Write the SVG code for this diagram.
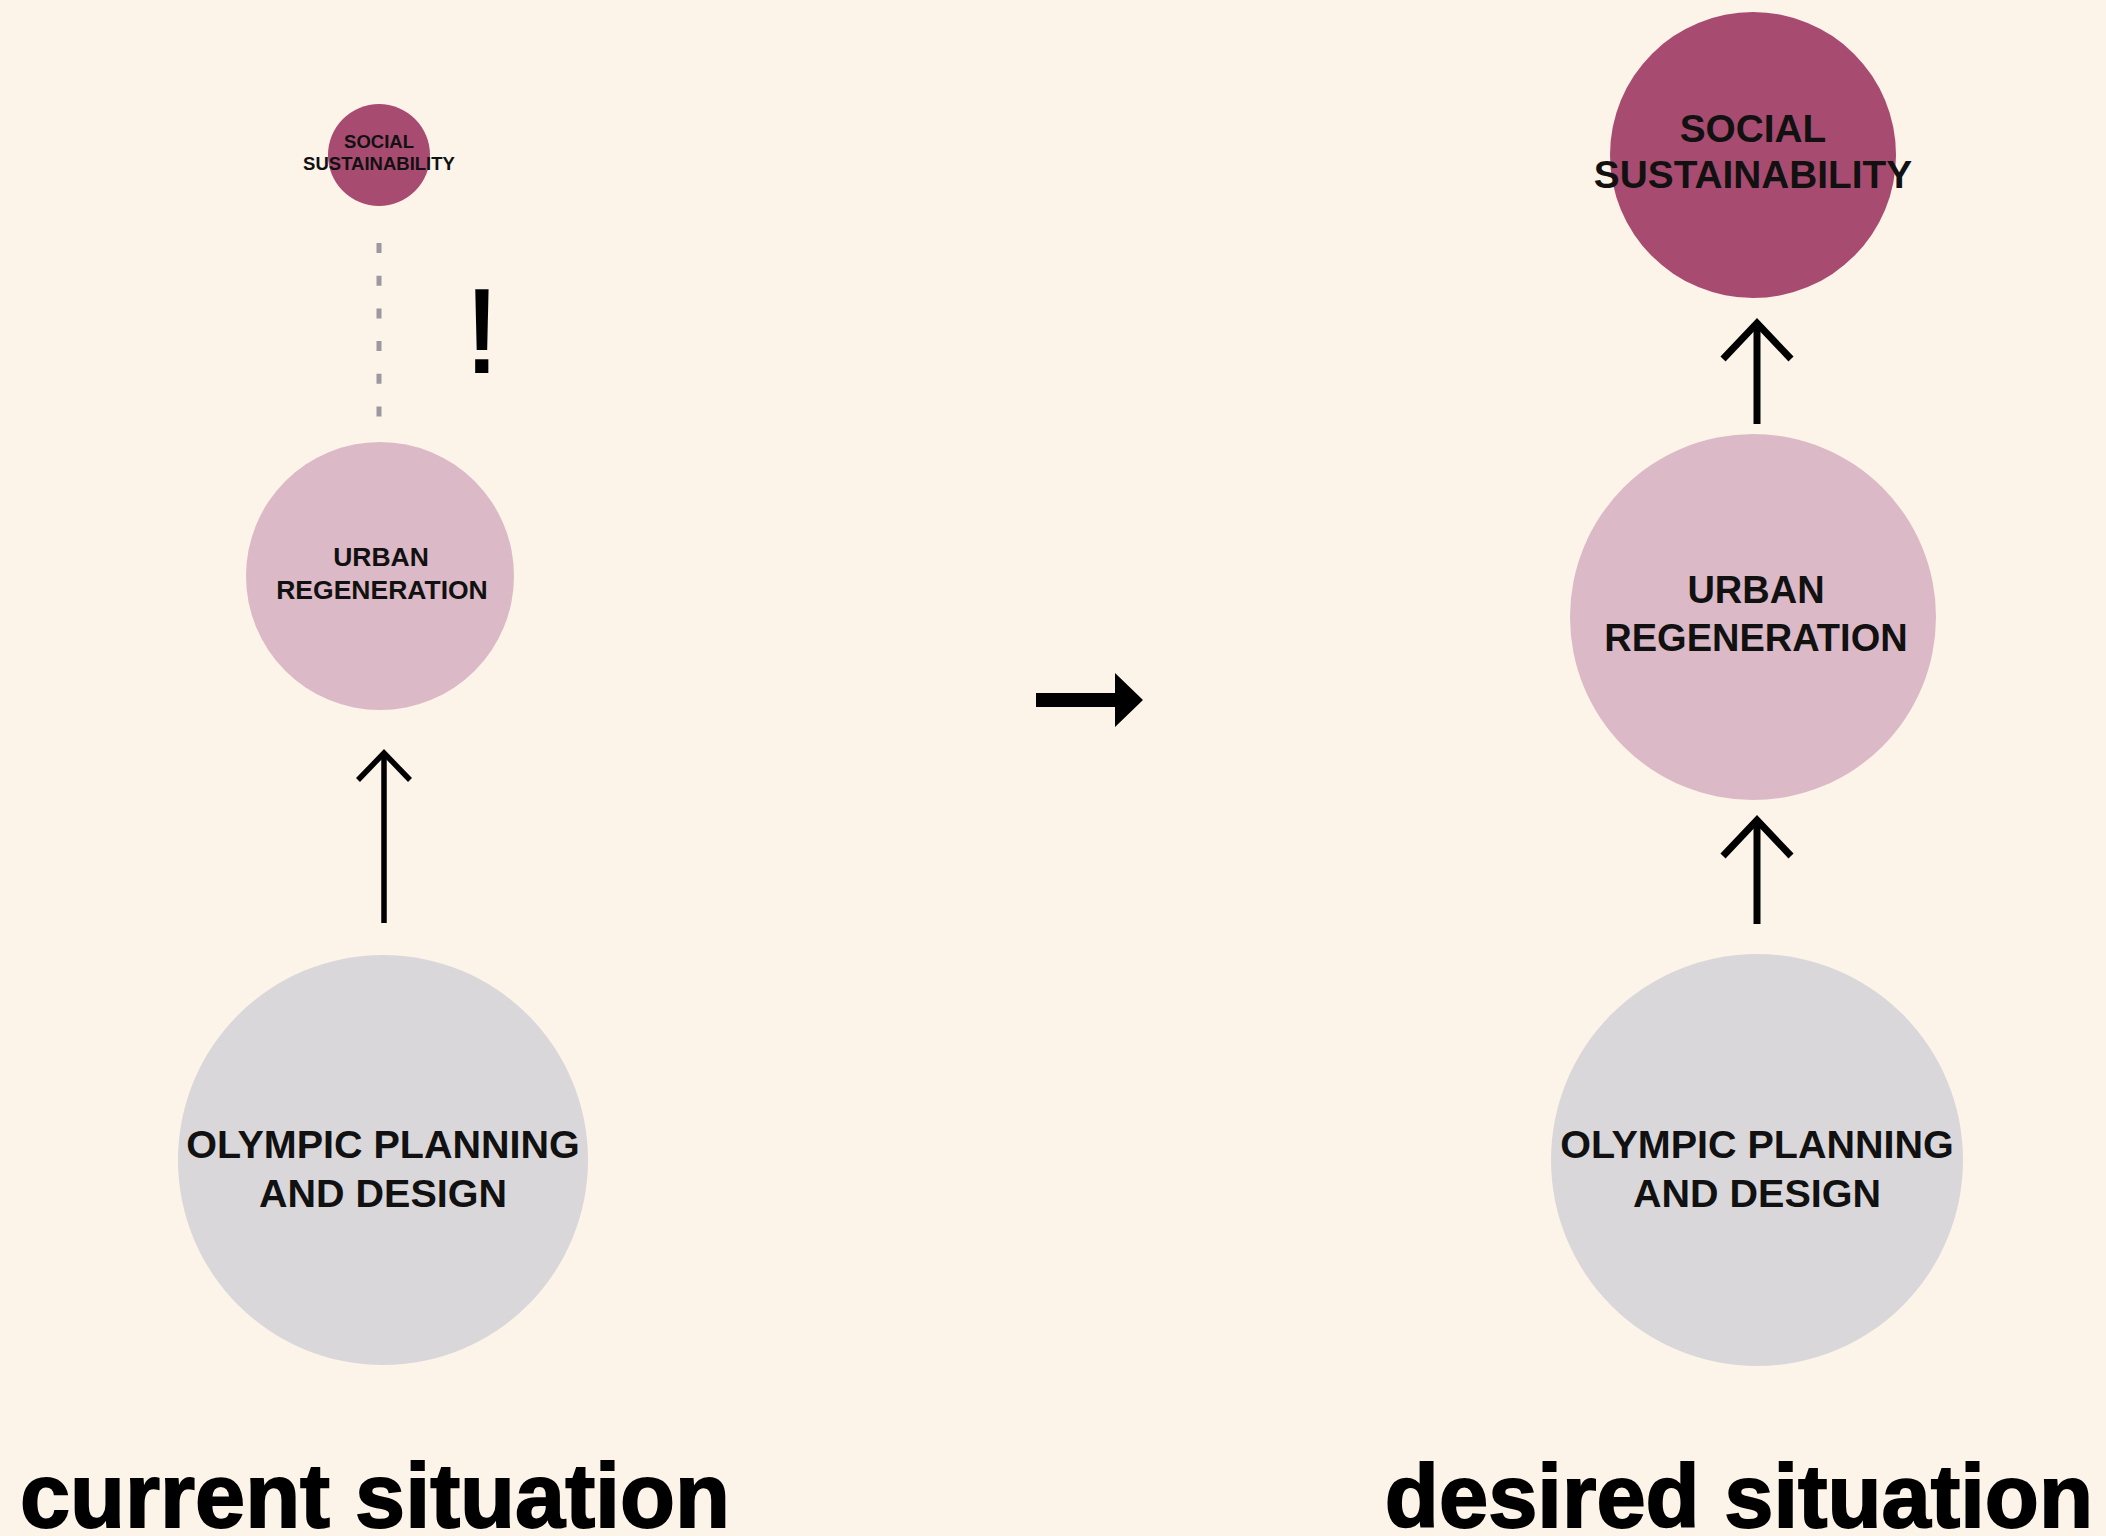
<svg xmlns="http://www.w3.org/2000/svg" width="2106" height="1536" viewBox="0 0 2106 1536">
<style>
.bg{fill:#FCF3E9}
.soc{fill:#A84B70}
.urb{fill:#DCB9C6}
.oly{fill:#DAD7DB}
.lbl{font-family:"Liberation Sans",Arial,sans-serif;font-weight:bold;fill:#111;text-anchor:middle}
.conn{stroke:#000;fill:none;stroke-linecap:butt;stroke-linejoin:miter}
.title{font-family:"Liberation Sans",Arial,sans-serif;font-weight:bold;fill:#000;stroke:#000;stroke-width:1.8px}
</style>
<rect class="bg" x="0" y="0" width="2106" height="1536"/>

<g id="connectors">
  <line x1="379" y1="243" x2="379" y2="420" stroke="#9B98A0" stroke-width="5" stroke-dasharray="10 22.7"/>
  <g class="conn" stroke-width="5.5">
    <line x1="384" y1="753" x2="384" y2="923"/>
    <polyline points="358,780 384,753 410,780"/>
  </g>
  <g class="conn" stroke-width="7">
    <line x1="1757" y1="322" x2="1757" y2="424"/>
    <polyline points="1723,359 1757,323 1791,359"/>
    <line x1="1757" y1="820" x2="1757" y2="924"/>
    <polyline points="1723,856 1757,820 1791,856"/>
  </g>
  <polygon id="transition-arrow" points="1036,693 1115,693 1115,673 1143,700 1115,727 1115,707 1036,707" fill="#000"/>
</g>

<g id="current-social">
  <circle class="soc" cx="379" cy="155" r="51"/>
  <text class="lbl" x="379" y="148" font-size="18.5">SOCIAL</text>
  <text class="lbl" x="379" y="170" font-size="18.5">SUSTAINABILITY</text>
</g>
<g id="warning">
  <text x="482" y="372" font-family="Liberation Sans,Arial,sans-serif" font-size="118" fill="#000" stroke="#000" stroke-width="2" text-anchor="middle">!</text>
</g>
<g id="current-urban">
  <circle class="urb" cx="380" cy="576" r="134"/>
  <text class="lbl" x="381" y="566" font-size="26.5">URBAN</text>
  <text class="lbl" x="382" y="599" font-size="26.5">REGENERATION</text>
</g>
<g id="current-olympic">
  <circle class="oly" cx="383" cy="1160" r="205"/>
  <text class="lbl" x="383" y="1158" font-size="39.5">OLYMPIC PLANNING</text>
  <text class="lbl" x="383" y="1207" font-size="39.5">AND DESIGN</text>
</g>

<g id="desired-social">
  <circle class="soc" cx="1753" cy="155" r="143"/>
  <text class="lbl" x="1753" y="142" font-size="38.8">SOCIAL</text>
  <text class="lbl" x="1753" y="188" font-size="38.8">SUSTAINABILITY</text>
</g>
<g id="desired-urban">
  <circle class="urb" cx="1753" cy="617" r="183"/>
  <text class="lbl" x="1756" y="603" font-size="38">URBAN</text>
  <text class="lbl" x="1756" y="651" font-size="38">REGENERATION</text>
</g>
<g id="desired-olympic">
  <circle class="oly" cx="1757" cy="1160" r="206"/>
  <text class="lbl" x="1757" y="1158" font-size="39.5">OLYMPIC PLANNING</text>
  <text class="lbl" x="1757" y="1207" font-size="39.5">AND DESIGN</text>
</g>

<g id="titles">
  <text class="title" x="20" y="1527" font-size="90">current situation</text>
  <text class="title" x="2093" y="1527" font-size="88.5" text-anchor="end">desired situation</text>
</g>
</svg>
